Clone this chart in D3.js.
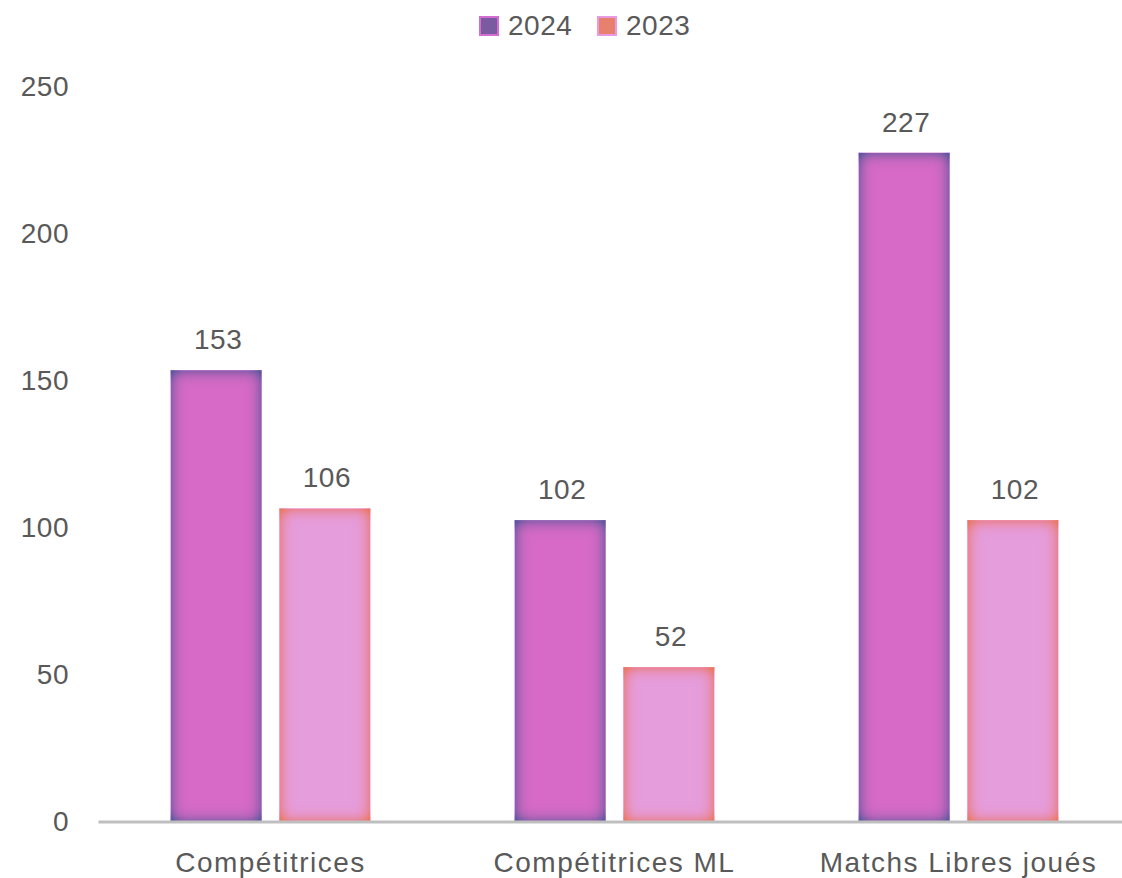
<!DOCTYPE html>
<html>
<head>
<meta charset="utf-8">
<script src="https://cdn.jsdelivr.net/npm/d3@7"></script>
<style>
  body { margin: 0; background: #fff; }
  text { font-family: "Liberation Sans", Arial, sans-serif; fill: #595959; }
</style>
</head>
<body>
<script>
// chart data
var categories = ["Compétitrices", "Compétitrices ML", "Matchs Libres joués"];
var seriesNames = ["2024", "2023"];
var values2024 = [153, 102, 227];
var values2023 = [106, 52, 102];
var yTicks = [0, 50, 100, 150, 200, 250];

var W = 1122, H = 878;
var margin = {top: 86, left: 98.5, bottom: 57};
var plotRight = 1130.5;
var y0 = H - margin.bottom; // 821

var svg = d3.select("body").append("svg")
    .attr("width", W)
    .attr("height", H);

// inner glow filters
var defs = svg.append("defs");
function glow(id, color, sd) {
  var f = defs.append("filter").attr("id", id)
      .attr("x", "-5%").attr("y", "-5%").attr("width", "110%").attr("height", "110%");
  f.append("feGaussianBlur").attr("in", "SourceAlpha").attr("stdDeviation", sd).attr("result", "blur");
  f.append("feComposite").attr("in", "SourceAlpha").attr("in2", "blur")
      .attr("operator", "arithmetic").attr("k2", 1.6).attr("k3", -1.6).attr("result", "inner");
  f.append("feFlood").attr("flood-color", color);
  f.append("feComposite").attr("in2", "inner").attr("operator", "in").attr("result", "g");
  var m = f.append("feMerge");
  m.append("feMergeNode").attr("in", "SourceGraphic");
  m.append("feMergeNode").attr("in", "g");
}
glow("glow2024", "#5a5aa0", 8);
glow("glow2023", "#ea7a62", 8);

var styles = {
  "2024": {fill: "#d66bc6", stroke: "#d56dd0", filter: "url(#glow2024)", swatch: "#7a5aa0"},
  "2023": {fill: "#e59ddc", stroke: "#e99ae2", filter: "url(#glow2023)", swatch: "#e8806e"}
};

var x0 = d3.scaleBand().domain(categories).range([margin.left, plotRight]).paddingInner(0).paddingOuter(0);
var x1 = d3.scaleBand().domain(seriesNames).range([73, 344 - 73]).paddingInner(0.18);
var y = d3.scaleLinear().domain([0, 250]).range([y0, margin.top]);

// y tick labels
svg.append("g").selectAll("text")
  .data(yTicks).enter().append("text")
    .attr("x", 69)
    .attr("y", function(d) { return y(d); })
    .attr("dy", "0.35em")
    .attr("text-anchor", "end")
    .style("font-size", "28px")
    .style("letter-spacing", "0.5px")
    .text(function(d) { return d; });

var rows = categories.map(function(c, i) {
  return {cat: c, vals: [{s: "2024", v: values2024[i]}, {s: "2023", v: values2023[i]}]};
});

var grp = svg.selectAll(".grp").data(rows).enter().append("g")
    .attr("transform", function(d) { return "translate(" + x0(d.cat) + ",0)"; });

grp.selectAll("rect").data(function(d) { return d.vals; }).enter().append("rect")
    .attr("x", function(d) { return x1(d.s); })
    .attr("y", function(d) { return y(d.v); })
    .attr("width", x1.bandwidth())
    .attr("height", function(d) { return y0 - y(d.v); })
    .attr("fill", function(d) { return styles[d.s].fill; })
    .attr("stroke", function(d) { return styles[d.s].stroke; })
    .attr("stroke-width", 2)
    .attr("filter", function(d) { return styles[d.s].filter; });

grp.selectAll(".lbl").data(function(d) { return d.vals; }).enter().append("text")
    .attr("x", function(d) { return x1(d.s) + x1.bandwidth() / 2 + 2; })
    .attr("y", function(d) { return y(d.v) - 22; })
    .attr("text-anchor", "middle")
    .style("font-size", "28px")
    .style("letter-spacing", "0.5px")
    .text(function(d) { return d.v; });

// x axis
svg.append("line")
    .attr("x1", margin.left).attr("x2", W)
    .attr("y1", y0 + 1).attr("y2", y0 + 1)
    .attr("stroke", "#bfbfbf").attr("stroke-width", 3);

svg.append("g").selectAll("text")
  .data(categories).enter().append("text")
    .attr("x", function(d) { return x0(d) + x0.bandwidth() / 2; })
    .attr("y", 872)
    .attr("text-anchor", "middle")
    .style("font-size", "28px")
    .style("letter-spacing", "1.5px")
    .text(function(d) { return d; });

// legend
var legX = [479, 597];
var leg = svg.append("g").selectAll("g").data(seriesNames).enter().append("g")
    .attr("transform", function(d, i) { return "translate(" + legX[i] + ",16)"; });
leg.append("rect")
    .attr("x", 1).attr("y", 1).attr("width", 18).attr("height", 18)
    .attr("fill", function(d) { return styles[d].swatch; })
    .attr("stroke", function(d) { return styles[d].stroke; })
    .attr("stroke-width", 2);
leg.append("text")
    .attr("x", 29).attr("y", 19)
    .style("font-size", "28px")
    .style("letter-spacing", "0.5px")
    .text(function(d) { return d; });
</script>
</body>
</html>
